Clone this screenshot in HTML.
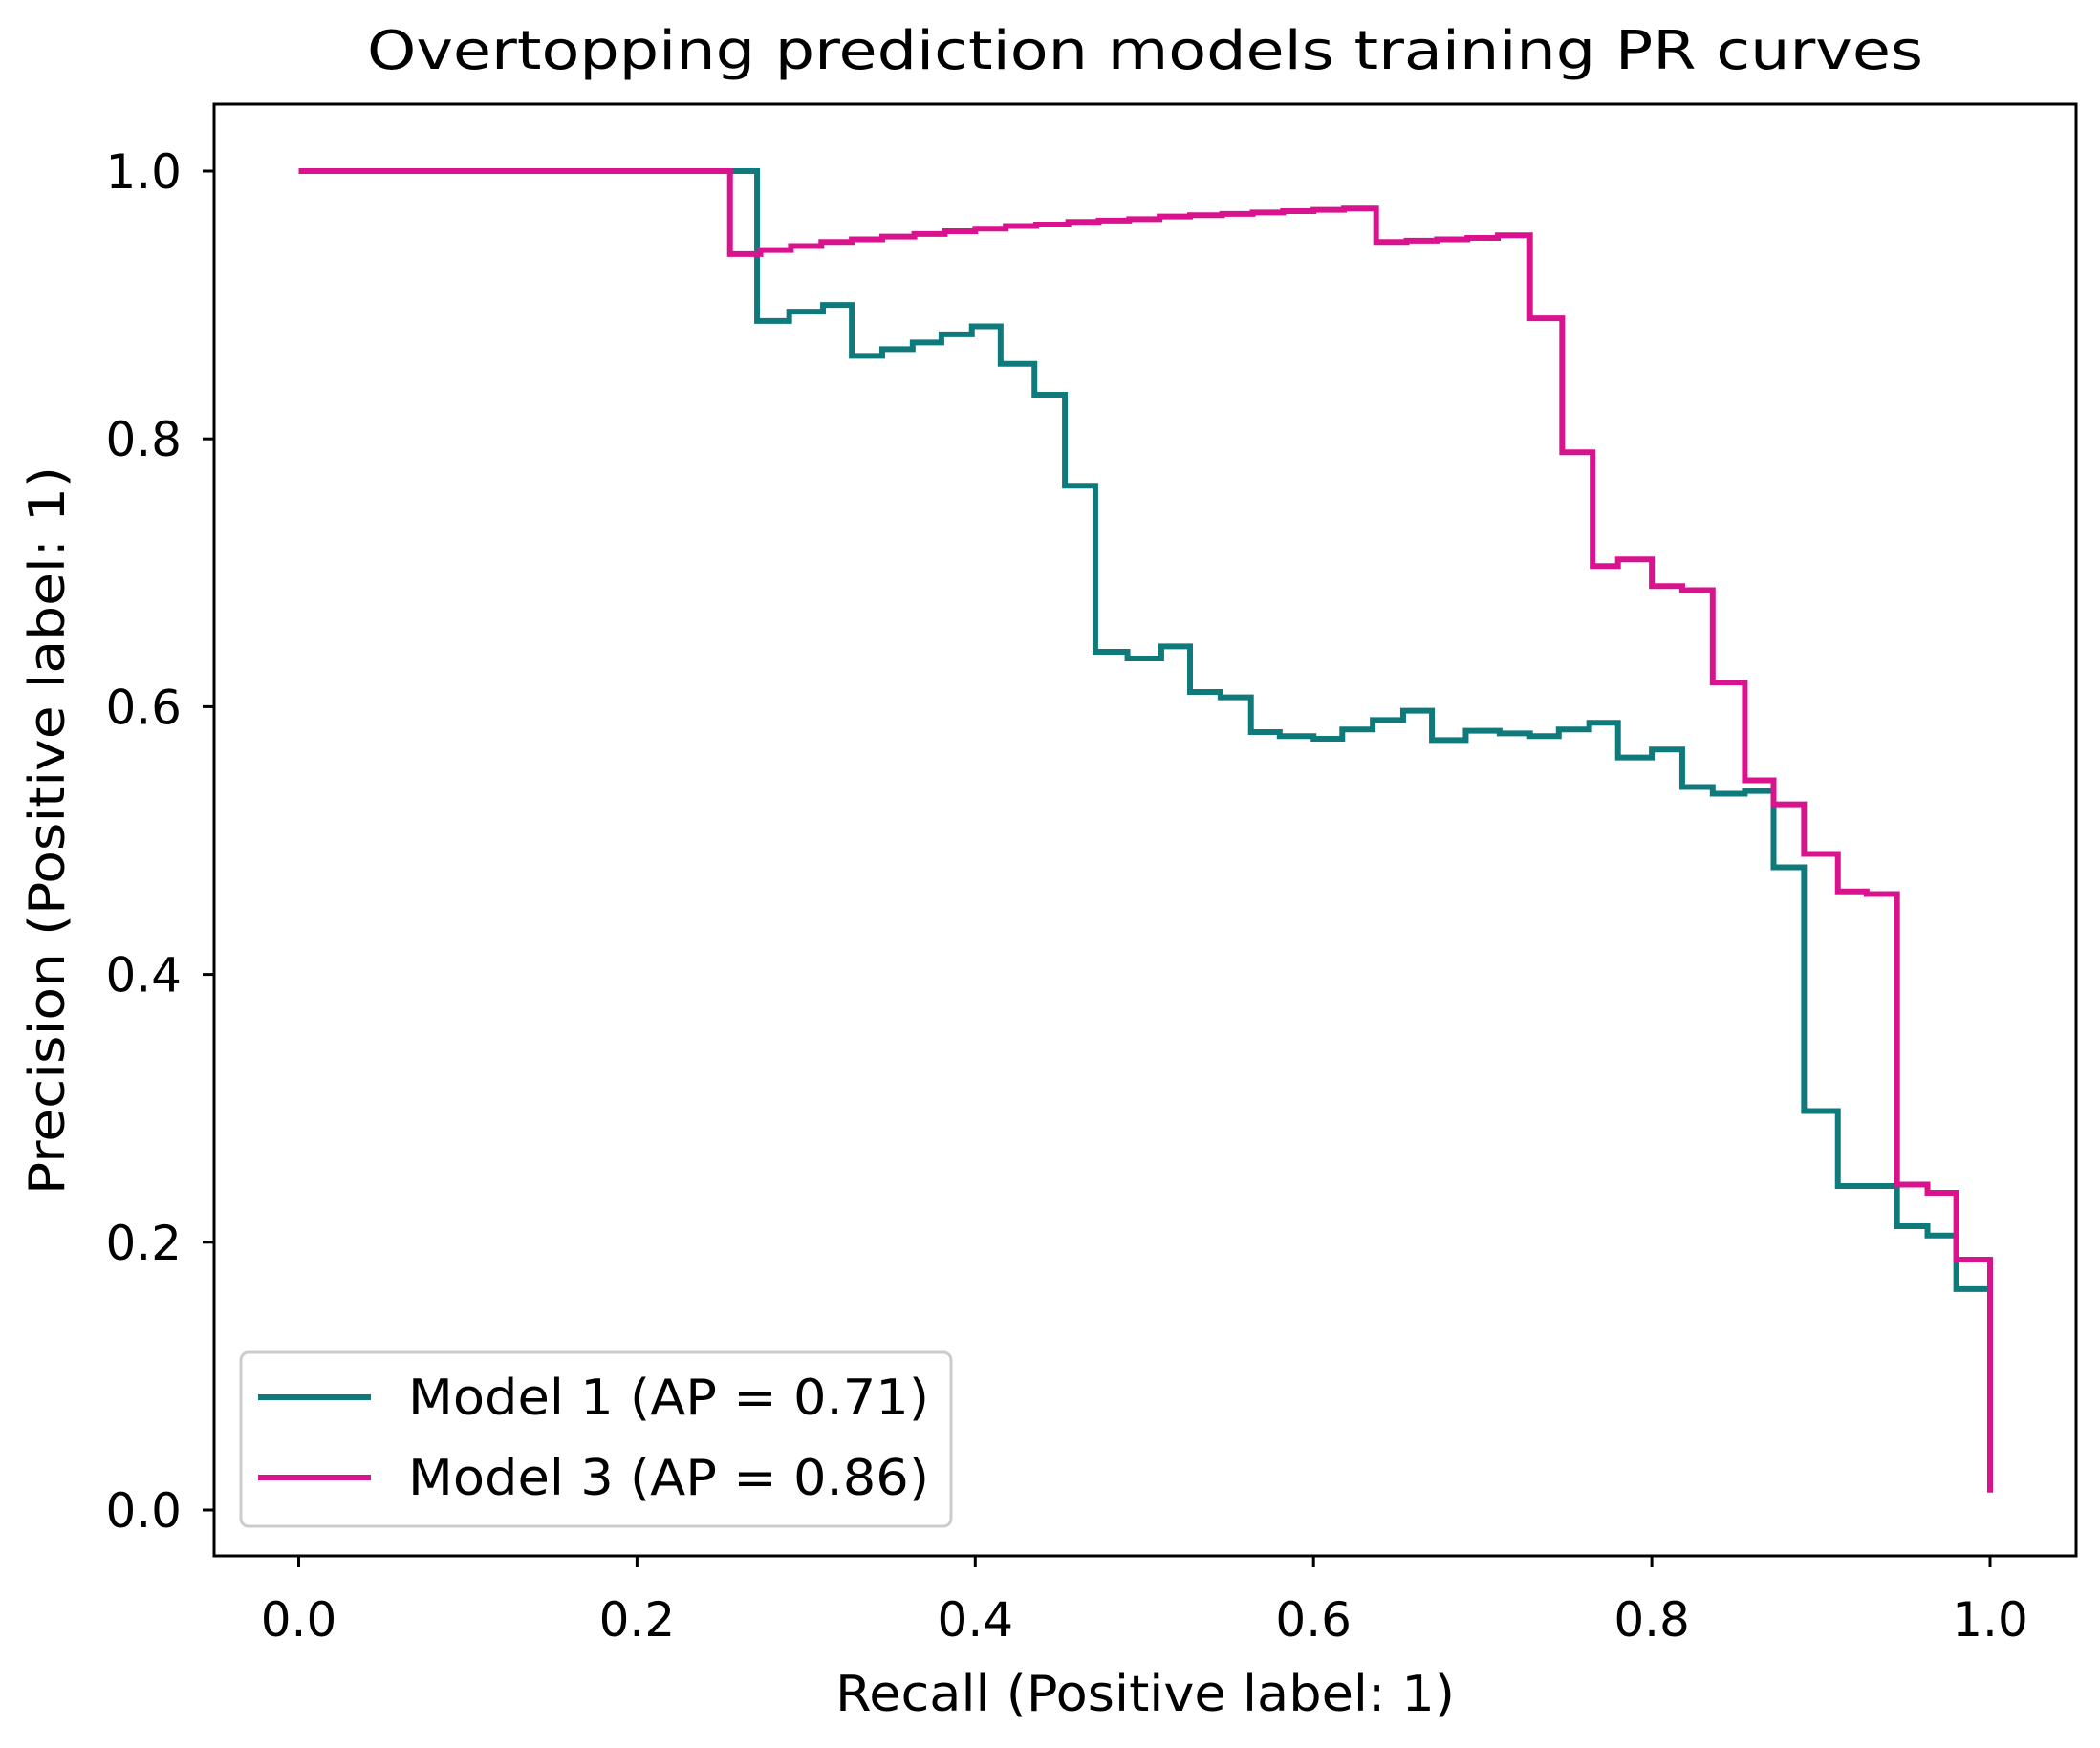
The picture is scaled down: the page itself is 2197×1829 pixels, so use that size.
<!DOCTYPE html>
<html><head><meta charset="utf-8"><style>
html,body{margin:0;padding:0;background:#fff;}
svg{display:block;font-family:"DejaVu Sans","Liberation Sans",sans-serif;}
</style></head><body>
<svg id="chart" width="2197" height="1829" viewBox="0 0 2197 1829" xmlns="http://www.w3.org/2000/svg">
<rect width="2197" height="1829" fill="#fff"/>
<text x="1198" y="72" font-size="56" text-anchor="middle" textLength="1628" lengthAdjust="spacingAndGlyphs">Overtopping prediction models training PR curves</text>
<g id="ticks"></g>
<g id="series"></g>
<rect x="224" y="109" width="1948" height="1519" fill="none" stroke="#000" stroke-width="3"/>
<text x="1198" y="1790" font-size="52" text-anchor="middle" textLength="648" lengthAdjust="spacingAndGlyphs">Recall (Positive label: 1)</text>
<text x="0" y="0" font-size="52" text-anchor="middle" transform="translate(67,869) rotate(-90)" textLength="762" lengthAdjust="spacingAndGlyphs">Precision (Positive label: 1)</text>
<g>
<rect x="252" y="1415" width="743" height="182" rx="8" fill="#fff" fill-opacity="0.8" stroke="#ccc" stroke-width="3"/>
<line x1="270" y1="1462" x2="388" y2="1462" stroke="#0e7a7c" stroke-width="6"/>
<text x="427" y="1480" font-size="52" textLength="545" lengthAdjust="spacingAndGlyphs">Model 1 (AP = 0.71)</text>
<line x1="270" y1="1546" x2="388" y2="1546" stroke="#d9138e" stroke-width="6"/>
<text x="427" y="1564" font-size="52" textLength="545" lengthAdjust="spacingAndGlyphs">Model 3 (AP = 0.86)</text>
</g>
</svg>
<script>
const xTicks = [0, 0.2, 0.4, 0.6, 0.8, 1.0];
const xTickLabels = ["0.0", "0.2", "0.4", "0.6", "0.8", "1.0"];
const yTicks = [0, 0.2, 0.4, 0.6, 0.8, 1.0];
const yTickLabels = ["0.0", "0.2", "0.4", "0.6", "0.8", "1.0"];
// Model 1: segment i spans recall1[i]..recall1[i+1] at precision1[i]
const recall1 = [0, 0.271, 0.29, 0.31, 0.327, 0.345, 0.363, 0.38, 0.398, 0.415, 0.435, 0.453, 0.471, 0.49, 0.51, 0.527, 0.545, 0.563, 0.58, 0.6, 0.617, 0.635, 0.653, 0.67, 0.69, 0.71, 0.728, 0.745, 0.763, 0.78, 0.8, 0.818, 0.836, 0.855, 0.872, 0.89, 0.91, 0.927, 0.945, 0.963, 0.98, 1.0];
const precision1 = [1.0, 0.888, 0.895, 0.9, 0.862, 0.867, 0.872, 0.878, 0.884, 0.856, 0.833, 0.765, 0.641, 0.636, 0.645, 0.611, 0.607, 0.581, 0.578, 0.576, 0.583, 0.59, 0.597, 0.575, 0.582, 0.58, 0.578, 0.583, 0.588, 0.562, 0.568, 0.54, 0.535, 0.537, 0.48, 0.298, 0.242, 0.242, 0.212, 0.205, 0.165];
// Model 3
const recall3 = [0, 0.255, 0.273, 0.291, 0.309, 0.327, 0.345, 0.364, 0.382, 0.4, 0.418, 0.436, 0.455, 0.473, 0.491, 0.509, 0.527, 0.546, 0.564, 0.582, 0.6, 0.618, 0.637, 0.655, 0.673, 0.691, 0.709, 0.728, 0.747, 0.765, 0.78, 0.8, 0.818, 0.836, 0.855, 0.872, 0.89, 0.91, 0.927, 0.945, 0.963, 0.98, 1.0];
const precision3 = [1.0, 0.938, 0.941, 0.944, 0.947, 0.949, 0.951, 0.953, 0.955, 0.957, 0.959, 0.96, 0.962, 0.963, 0.964, 0.966, 0.967, 0.968, 0.969, 0.97, 0.971, 0.972, 0.947, 0.948, 0.949, 0.95, 0.952, 0.89, 0.79, 0.705, 0.71, 0.69, 0.687, 0.618, 0.545, 0.527, 0.49, 0.462, 0.46, 0.243, 0.237, 0.187];
const endPrecision3 = 0.013;

const NS = "http://www.w3.org/2000/svg";
const X0 = 312.5, X1 = 2082, Y0 = 1580, Y1 = 179;
function sx(v){ return X0 + v * (X1 - X0); }
function sy(v){ return Y0 - v * (Y0 - Y1); }

const tg = document.getElementById('ticks');
xTicks.forEach((v, i) => {
  const l = document.createElementNS(NS, 'line');
  l.setAttribute('x1', sx(v)); l.setAttribute('x2', sx(v));
  l.setAttribute('y1', 1628); l.setAttribute('y2', 1640);
  l.setAttribute('stroke', '#000'); l.setAttribute('stroke-width', 3);
  
  
  tg.appendChild(l);
  const t = document.createElementNS(NS, 'text');
  t.setAttribute('x', sx(v)); t.setAttribute('y', 1712);
  t.setAttribute('font-size', 50); t.setAttribute('text-anchor', 'middle');
  t.textContent = xTickLabels[i];
  
  
  tg.appendChild(t);
});
yTicks.forEach((v, i) => {
  const l = document.createElementNS(NS, 'line');
  l.setAttribute('x1', 212); l.setAttribute('x2', 224);
  l.setAttribute('y1', sy(v)); l.setAttribute('y2', sy(v));
  l.setAttribute('stroke', '#000'); l.setAttribute('stroke-width', 3);
  
  
  tg.appendChild(l);
  const t = document.createElementNS(NS, 'text');
  t.setAttribute('x', 190); t.setAttribute('y', sy(v) + 18);
  t.setAttribute('font-size', 50); t.setAttribute('text-anchor', 'end');
  t.textContent = yTickLabels[i];
  
  
  tg.appendChild(t);
});

function stepPath(rec, prec, endP){
  let d = 'M' + sx(rec[0]) + ',' + sy(prec[0]);
  for (let i = 0; i < prec.length; i++){
    if (i > 0) d += ' V' + sy(prec[i]);
    d += ' H' + sx(rec[i + 1]);
  }
  if (endP !== undefined) d += ' V' + sy(endP);
  return d;
}
const sg = document.getElementById('series');
const p1 = document.createElementNS(NS, 'path');
p1.setAttribute('d', stepPath(recall1, precision1));
p1.setAttribute('fill', 'none'); p1.setAttribute('stroke', '#0e7a7c'); p1.setAttribute('stroke-width', 6);


sg.appendChild(p1);
const p3 = document.createElementNS(NS, 'path');
p3.setAttribute('d', stepPath(recall3, precision3, endPrecision3));
p3.setAttribute('fill', 'none'); p3.setAttribute('stroke', '#d9138e'); p3.setAttribute('stroke-width', 6);


sg.appendChild(p3);
</script>
</body></html>
